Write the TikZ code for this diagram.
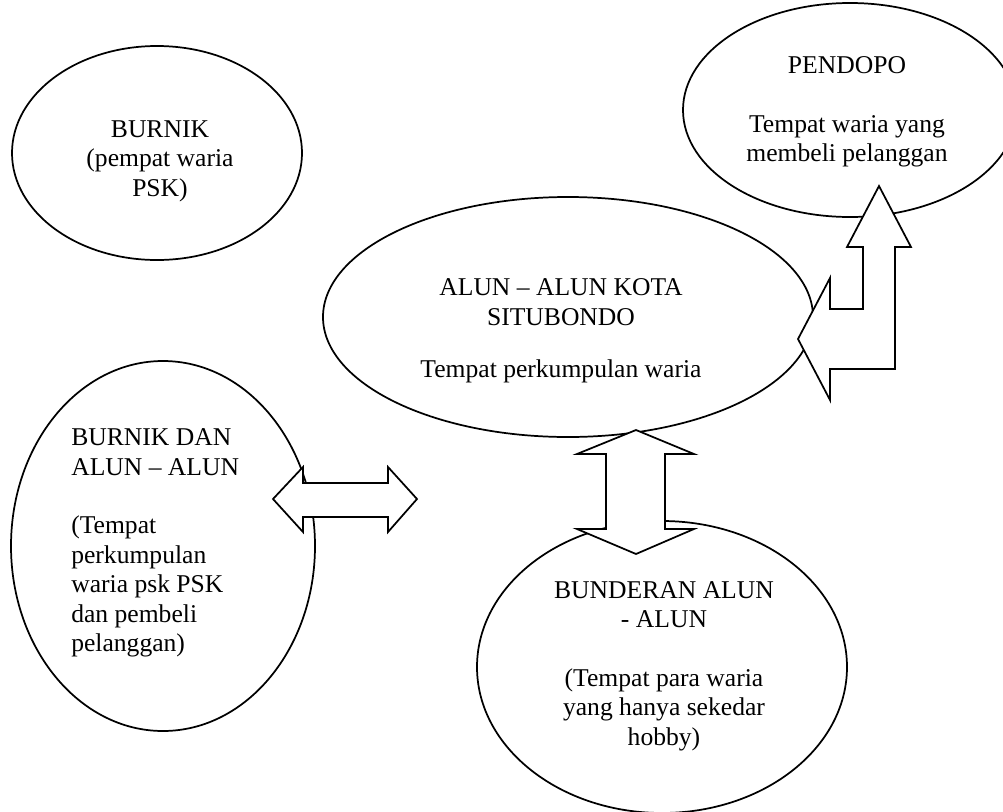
\documentclass[tikz,border=0pt]{standalone}
\usepackage{fontspec}
\setmainfont{Liberation Serif}
\usetikzlibrary{shapes.geometric}
\tikzset{
  oval/.style={ellipse, draw, line width=1.3pt, inner sep=0pt},
  lbl/.style={font=\fontsize{19.2}{22.1}\selectfont, align=center, inner sep=0pt},
  lbll/.style={font=\fontsize{19.2}{22.1}\selectfont, align=left, inner sep=0pt, anchor=west},
  blockarrow/.style={draw, fill=white, line width=1.3pt, line join=miter}
}
\begin{document}
\begin{tikzpicture}[x=0.75pt, y=-0.75pt]
\useasboundingbox (0,0) rectangle (1003,811);
% ellipses
\node[oval, minimum width=217.5pt, minimum height=160.5pt] (burnik) at (157,153) {};
\node[oval, minimum width=250.5pt, minimum height=160.5pt] (pendopo) at (850,110) {};
\node[oval, minimum width=367.5pt, minimum height=180pt] (alun) at (568,317) {};
\node[oval, minimum width=228pt, minimum height=277.5pt] (burnikdan) at (163,546) {};
\node[oval, minimum width=277.5pt, minimum height=219pt] (bunderan) at (662,667) {};
% labels
\node[lbl] (burnikT) at (160,161) {BURNIK\\(pempat waria\\PSK)};
\node[lbl] (pendopoT) at (847,112) {PENDOPO\\[22.1pt]Tempat waria yang\\membeli pelanggan};
\node[lbl] (alunT) at (561,331) {ALUN – ALUN KOTA\\SITUBONDO\\[17pt]Tempat perkumpulan waria};
\node[lbll] (burnikdanT) at (71,543) {BURNIK DAN\\ALUN – ALUN\\[22.1pt](Tempat\\perkumpulan\\waria psk PSK\\dan pembeli\\pelanggan)};
\node[lbl] (bunderanT) at (664,666) {BUNDERAN ALUN\\- ALUN\\[22.1pt](Tempat para waria\\yang hanya sekedar\\hobby)};
% block arrows
\draw[blockarrow] (273,499) -- (303,467) -- (303,483) -- (388,483) -- (388,467) -- (417,499)
  -- (388,532) -- (388,517) -- (303,517) -- (303,532) -- cycle;
\draw[blockarrow] (636,430) -- (694,454) -- (665,454) -- (665,529) -- (694,529) -- (636,554)
  -- (577,529) -- (606,529) -- (606,454) -- (577,454) -- cycle;
\draw[blockarrow] (879,186) -- (911,247) -- (895,247) -- (895,369) -- (830,369) -- (830,400)
  -- (798,339) -- (830,278) -- (830,309) -- (863,309) -- (863,247) -- (847,247) -- cycle;
\end{tikzpicture}
\end{document}
